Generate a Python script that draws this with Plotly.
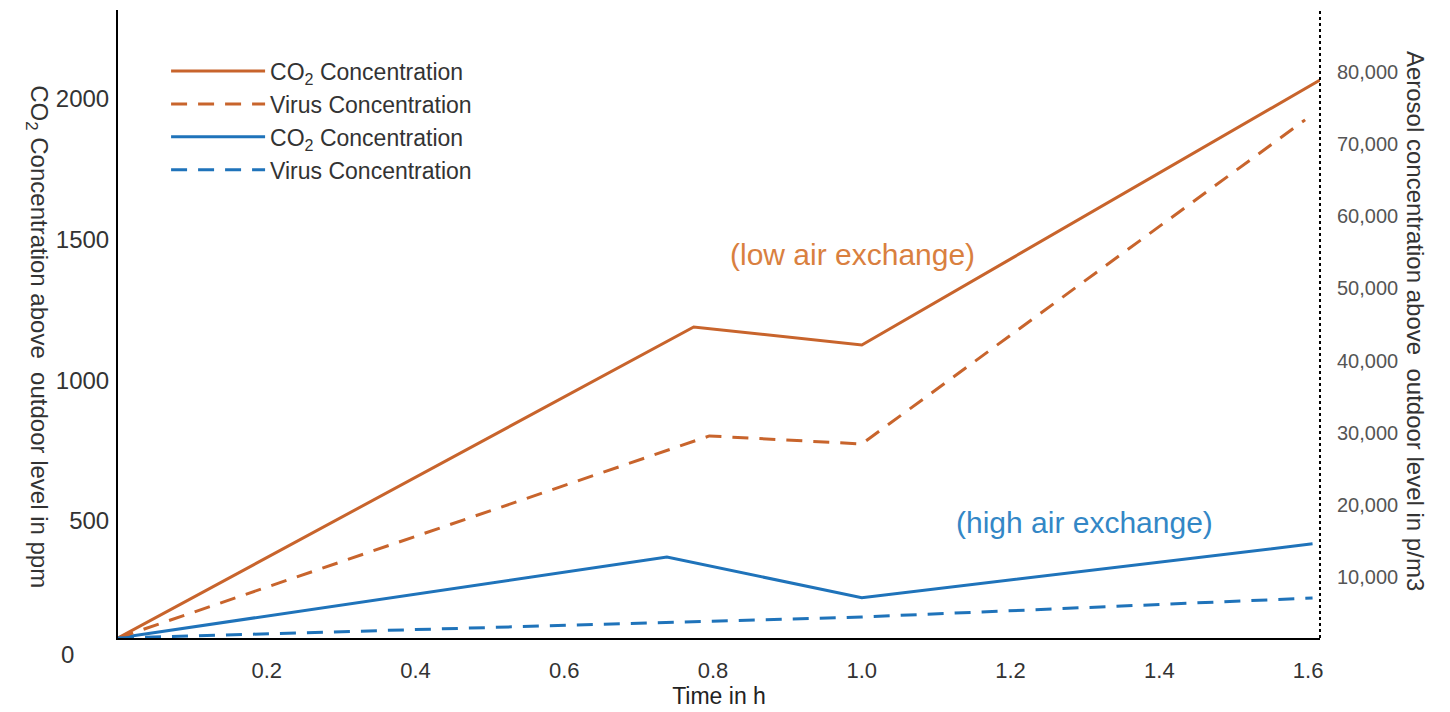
import plotly.graph_objects as go

# ---- data ----
time_co2_low = [0.0, 0.774, 1.0, 1.616]
co2_low = [83, 1189, 1125, 2067]

time_virus_low = [0.0, 0.795, 1.0, 1.596]
virus_low = [1525, 29540, 28430, 73370]

time_co2_high = [0.0, 0.738, 1.0, 1.606]
co2_high = [83, 371, 226, 418]

time_virus_high = [0.0, 1.0, 1.606]
virus_high = [1525, 4440, 7070]

x_ticks = [0.2, 0.4, 0.6, 0.8, 1.0, 1.2, 1.4, 1.6]
x_ticklabels = ["0.2", "0.4", "0.6", "0.8", "1.0", "1.2", "1.4", "1.6"]
left_ticks = [500, 1000, 1500, 2000]
right_ticks = [10000, 20000, 30000, 40000, 50000, 60000, 70000, 80000]

ORANGE = "#C8642C"
BLUE = "#1F73BA"
FONT = "Liberation Sans, Arial, sans-serif"

fig = go.Figure()
fig.add_trace(go.Scatter(x=time_co2_low, y=co2_low, mode="lines",
                         name="CO<sub>2</sub> Concentration",
                         line=dict(color=ORANGE, width=3), yaxis="y"))
fig.add_trace(go.Scatter(x=time_virus_low, y=virus_low, mode="lines",
                         name="Virus Concentration",
                         line=dict(color=ORANGE, width=3, dash="16px,11px"), yaxis="y2"))
fig.add_trace(go.Scatter(x=time_co2_high, y=co2_high, mode="lines",
                         name="CO<sub>2</sub> Concentration",
                         line=dict(color=BLUE, width=3), yaxis="y"))
fig.add_trace(go.Scatter(x=time_virus_high, y=virus_high, mode="lines",
                         name="Virus Concentration",
                         line=dict(color=BLUE, width=3, dash="16px,11px"), yaxis="y2"))

fig.update_layout(
    width=1442, height=704,
    margin=dict(l=110, r=130, t=2, b=74, autoexpand=False),
    paper_bgcolor="white", plot_bgcolor="white",
    font=dict(family=FONT, color="#333333"),
    showlegend=True,
    legend=dict(x=0.04, y=0.937, xanchor="left", yanchor="top",
                bgcolor="rgba(255,255,255,0)", font=dict(size=23, color="#333333"),
                itemwidth=94, tracegroupgap=0),
    xaxis=dict(range=[0, 1.616], tickvals=x_ticks, ticktext=x_ticklabels,
               showgrid=False, zeroline=False, showline=True, linecolor="black",
               linewidth=2, ticks="", ticklabelstandoff=12, automargin=False,
               tickfont=dict(size=22, color="#333333"),
               title=dict(text="Time in h", font=dict(size=23, color="#222222"), standoff=0)),
    yaxis=dict(range=[83, 2316], tickvals=left_ticks, showgrid=False, zeroline=False,
               showline=True, linecolor="black", linewidth=2, ticks="",
               ticklabelstandoff=2, automargin=False,
               tickfont=dict(size=24, color="#333333")),
    yaxis2=dict(range=[1525, 88600], tickvals=right_ticks, tickformat=",",
                overlaying="y", side="right", showgrid=False, zeroline=False,
                showline=False, ticks="", ticklabelstandoff=16, automargin=False,
                tickfont=dict(size=20, color="#555555")),
)

# dotted right axis line
fig.add_shape(type="line", xref="paper", yref="paper", x0=1, x1=1, y0=0, y1=1,
              line=dict(color="black", width=2, dash="dot"))

# "0" tick label of the left axis (sits below the axis baseline in the reference)
fig.add_annotation(text="0", xref="paper", yref="paper", x=-0.0416, y=-0.027,
                   xanchor="center", yanchor="middle",
                   showarrow=False, font=dict(size=24, color="#333333"))

# axis titles (both read top-to-bottom in the reference)
fig.add_annotation(text="CO<sub>2</sub> Concentration above  outdoor level in ppm",
                   xref="paper", yref="paper", x=-0.0666, y=0.479, textangle=90,
                   xanchor="center", yanchor="middle",
                   showarrow=False, font=dict(size=24, color="#333333"))
fig.add_annotation(text="Aerosol concentration above  outdoor level in p/m3",
                   xref="paper", yref="paper", x=1.079, y=0.505, textangle=90,
                   xanchor="center", yanchor="middle",
                   showarrow=False, font=dict(size=24, color="#333333"))

# series annotations
fig.add_annotation(text="(low air exchange)", xref="x", yref="y",
                   x=0.987, y=1445, showarrow=False,
                   font=dict(size=30, color="#D9803F"))
fig.add_annotation(text="(high air exchange)", xref="x", yref="y",
                   x=1.30, y=495, showarrow=False,
                   font=dict(size=30, color="#3387C6"))

fig.write_html("out.html")
